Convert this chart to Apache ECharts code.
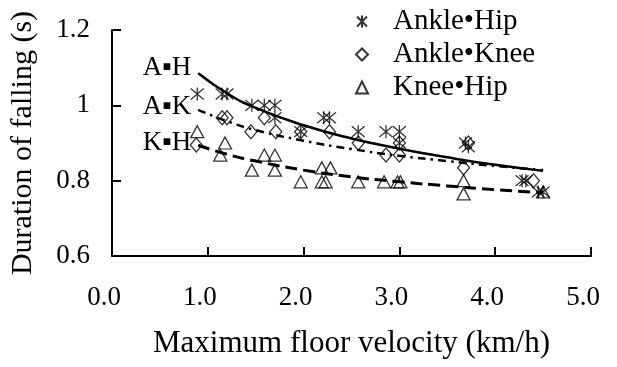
<!DOCTYPE html>
<html>
<head>
<meta charset="utf-8">
<script src="https://cdn.jsdelivr.net/npm/echarts@6/dist/echarts.min.js"></script>
<style>html,body{margin:0;padding:0;background:#fff}#c{width:617px;height:367px}</style>
</head>
<body>
<div id="c"></div>
<script>
// ---- data ----
var xTicks = [0, 1, 2, 3, 4, 5];
var yTicks = [0.6, 0.8, 1, 1.2];
var seriesNames = ['Ankle\u2022Hip', 'Ankle\u2022Knee', 'Knee\u2022Hip'];
var lineLabels = ['A\u25AAH', 'A\u25AAK', 'K\u25AAH'];

var ankleHip = [[0.89,1.03],[1.15,1.03],[1.2,1.03],[1.46,1.0],[1.59,1.0],[1.7,1.0],[1.7,0.967],[1.97,0.93],
  [2.21,0.967],[2.27,0.967],[2.57,0.93],[2.86,0.93],[3.0,0.93],[3.0,0.9],[3.69,0.9],[3.72,0.89],
  [4.28,0.8],[4.32,0.8],[4.45,0.77],[4.5,0.77]];
var ankleKnee = [[0.88,0.895],[1.15,0.967],[1.2,0.967],[1.45,0.93],[1.59,0.967],[1.71,0.93],[1.97,0.93],
  [2.27,0.93],[2.57,0.9],[2.86,0.868],[3.0,0.868],[3.0,0.9],[3.72,0.9],[3.67,0.834],[4.4,0.8]];
var kneeHip = [[0.89,0.93],[1.13,0.868],[1.18,0.9],[1.46,0.828],[1.59,0.868],[1.7,0.868],[1.7,0.828],
  [1.97,0.797],[2.19,0.834],[2.28,0.834],[2.19,0.797],[2.23,0.797],[2.57,0.797],[2.84,0.797],
  [2.98,0.797],[3.01,0.797],[3.67,0.8],[3.67,0.765],[4.5,0.77]];

// fitted trend curves
var fitX  = [0.9, 1.2, 1.5, 2.0, 2.5, 3.0, 3.5, 4.0, 4.5];
var fitAH = [1.085, 1.032, 0.993, 0.947, 0.912, 0.885, 0.862, 0.842, 0.826];
var fitAK = [0.988, 0.958, 0.934, 0.906, 0.884, 0.866, 0.852, 0.839, 0.828];
var fitKH = [0.894, 0.870, 0.852, 0.828, 0.810, 0.797, 0.786, 0.776, 0.768];

var FONT = 'Liberation Serif';
var starPath = 'path://M0,0L10,10M10,0L0,10M5,-1L5,11';

function fitData(ys, label, offY) {
  return fitX.map(function (x, i) {
    var d = { value: [x, ys[i]] };
    if (i === 0) {
      d.label = { show: true, position: 'left', distance: 7, offset: [0, offY], formatter: label,
        fontFamily: FONT, fontSize: 27, color: '#000' };
    }
    return d;
  });
}

var chart = echarts.init(document.getElementById('c'), null, { renderer: 'canvas' });
var hollow = 'rgba(0,0,0,0)';
function fitSeries(ys, label, offY, lineStyle) {
  return { type: 'line', data: fitData(ys, label, offY), smooth: true, symbol: 'circle', symbolSize: 0,
    showSymbol: true, label: { show: false }, lineStyle: lineStyle, itemStyle: { color: '#000' },
    silent: true, z: 2 };
}
chart.setOption({
  animation: false,
  backgroundColor: '#fff',
  grid: { left: 110, right: 26, top: 30, bottom: 111 },
  legend: {
    orient: 'vertical', left: 350, top: 2, itemGap: 4, itemWidth: 12, itemHeight: 12,
    data: seriesNames,
    textStyle: { fontFamily: FONT, fontSize: 29, color: '#000', padding: [0, 0, 0, 20] }
  },
  xAxis: {
    type: 'value', min: 0, max: 5, interval: 1,
    name: 'Maximum floor velocity (km/h)', nameLocation: 'middle', nameGap: 72,
    nameTextStyle: { fontFamily: FONT, fontSize: 31, color: '#000' },
    axisLine: { lineStyle: { color: '#000', width: 2 } },
    axisTick: { inside: true, length: 9, lineStyle: { color: '#000', width: 2 } },
    axisLabel: { margin: 28, fontFamily: FONT, fontSize: 27, color: '#000', padding: [0, 16, 0, 0],
      formatter: function (v) { return v.toFixed(1); } },
    splitLine: { show: false }
  },
  yAxis: {
    type: 'value', min: 0.6, max: 1.2, interval: 0.2,
    name: 'Duration of falling (s)', nameLocation: 'middle', nameGap: 74,
    nameTextStyle: { fontFamily: FONT, fontSize: 30, color: '#000' },
    axisLine: { show: true, lineStyle: { color: '#000', width: 2 } },
    axisTick: { show: true, inside: true, length: 9, lineStyle: { color: '#000', width: 2 } },
    axisLabel: { margin: 22, fontFamily: FONT, fontSize: 27, color: '#000',
      formatter: function (v) { return String(Math.round(v * 10) / 10); } },
    splitLine: { show: false }
  },
  series: [
    { name: seriesNames[0], type: 'scatter', data: ankleHip, symbol: starPath, symbolSize: 13,
      itemStyle: { color: hollow, borderColor: '#000', borderWidth: 1.3 }, z: 3 },
    { name: seriesNames[1], type: 'scatter', data: ankleKnee, symbol: 'diamond', symbolSize: [12, 14],
      itemStyle: { color: hollow, borderColor: '#000', borderWidth: 1.3 }, z: 3 },
    { name: seriesNames[2], type: 'scatter', data: kneeHip, symbol: 'triangle', symbolSize: [13, 12],
      itemStyle: { color: hollow, borderColor: '#000', borderWidth: 1.3 }, z: 3 },
    fitSeries(fitAH, lineLabels[0], -5, { color: '#000', width: 2.5, type: 'solid' }),
    fitSeries(fitAK, lineLabels[1], -3, { color: '#000', width: 2.5, type: [8, 5, 2.5, 5] }),
    fitSeries(fitKH, lineLabels[2], -2, { color: '#000', width: 3, type: [12, 6] })
  ]
});
</script>
</body>
</html>
